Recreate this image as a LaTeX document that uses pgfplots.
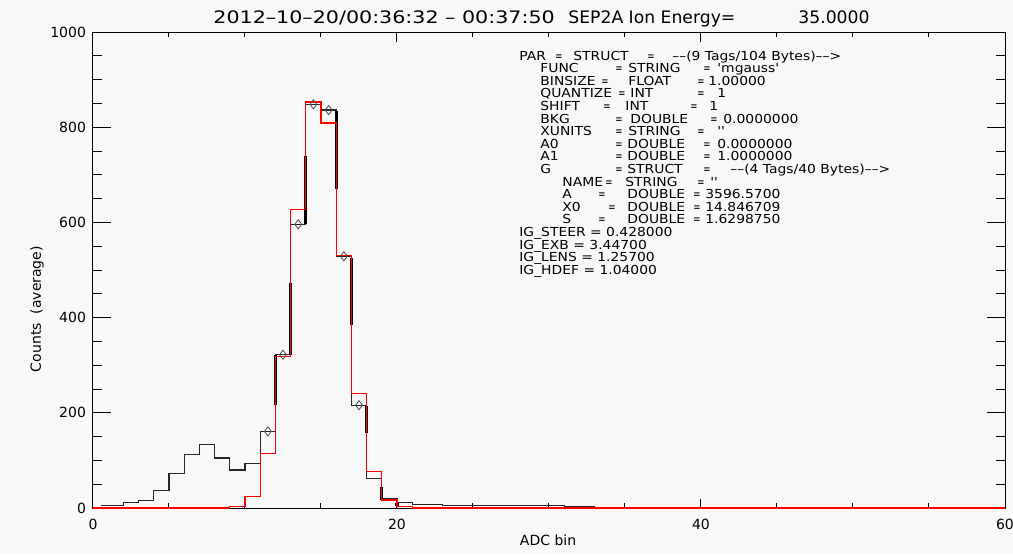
\documentclass[border=0pt]{standalone}
\usepackage{pgfplots}
\pgfplotsset{compat=1.18}
\usepackage{fontspec}
\setmainfont{DejaVu Sans}
\newfontfamily\idlt{DejaVu Sans}
\newfontfamily\idl[FakeStretch=1.12]{DejaVu Sans}
\newfontfamily\idlw[FakeStretch=1.2]{DejaVu Sans}
\definecolor{bg}{RGB}{248,248,248}
\newcommand{\T}[3]{\node[anchor=base west,inner sep=0pt,font=\idl\fontsize{6.2}{7}\selectfont] at ({(#1-93)*0.5pt},{(508-#2-4)*0.5pt}) {#3};}
\newcommand{\E}[2]{\T{#1}{#2}{\scalebox{0.62}[1]{=}}}
\newcommand{\Tt}[3]{\node[anchor=base west,inner sep=0pt,font=#2\fontsize{8.6}{10}\selectfont] at ({(#1-93)*0.5pt},{(508-23)*0.5pt}) {#3};}
\begin{document}
\begin{tikzpicture}
\path[use as bounding box, fill=bg] (-46.5pt,-23pt) rectangle (460pt,254pt);
\begin{axis}[
  scale only axis, width=456pt, height=238pt,
  xmin=0, xmax=60, ymin=0, ymax=1000,
  xtick={0,20,40,60}, ytick={0,200,400,600,800,1000},
  minor x tick num=3, minor y tick num=3,
  tick align=inside,
  xtick style={black, line width=0.5pt, /pgfplots/major tick length=4.75pt, /pgfplots/minor tick length=2.4pt},
  ytick style={black, line width=0.5pt, /pgfplots/major tick length=9.1pt, /pgfplots/minor tick length=4.5pt},
  axis line style={line width=0.5pt},
  tick label style={font=\idlt\fontsize{7}{8}\selectfont},
  /pgf/number format/assume math mode=true,
  /pgf/number format/1000 sep={},
  xticklabel style={yshift=-2pt},
  clip=false,
  xlabel={ADC bin}, ylabel={Counts\ \ (average)},
  every axis x label/.style={at={(axis description cs:0.499,-0.067)}, anchor=center, font=\idlt\fontsize{7}{8}\selectfont},
  every axis y label/.style={at={(axis description cs:-0.0614,0.418)}, anchor=center, rotate=90, font=\idlt\fontsize{7}{8}\selectfont},
]
% observed counts (black histogram)
\addplot[const plot, black!85, line width=0.6pt] coordinates {
 (0.5,6) (2,11) (3,16) (4,37) (5,72) (6,113) (7,134) (8,105) (9,80) (10,94)
 (11,161) (12,322) (13,596) (14,848) (15,836) (16,529) (17,216) (18,62)
 (19,19) (20,11) (21,7) (23,5) (31,2.5) (33,2.5)};
% heavy segments at bin edges
\addplot[black, line width=1.6pt, unbounded coords=jump] coordinates {
 (12,217) (12,322) (12,nan)
 (13,322) (13,473) (13,nan)
 (14,596) (14,739) (14,nan)
 (16,671) (16,835) (16,nan)
 (17,385) (17,525) (17,nan)
 (18,158) (18,215) (18,nan)
 (19,17) (19,45) (19,nan)
 (20,5) (20,11)};
% fit (red histogram)
\addplot[const plot, red, line width=0.6pt] coordinates {
 (0,0) (9,4) (10,25) (11,114) (12,318) (13,627) (14,853) (15,809) (16,531)
 (17,241) (18,77) (19,17) (20,4) (21,0) (60,0)};
% diamonds at bin centres
\addplot[only marks, mark=diamond, mark size=2.3pt, mark options={draw=black!70, line width=0.4pt, fill=none}] coordinates {
 (11.5,161) (12.5,322) (13.5,596) (14.5,848) (15.5,836) (16.5,529) (17.5,216)};
\end{axis}
\Tt{213}{\idlw}{2012–10–20/00:36:32 – 00:37:50}
\Tt{568}{\idlt}{SEP2A Ion Energy=}
\Tt{798}{\idlt}{35.0000}
% parameter listing
\T{519}{56}{PAR}\E{555}{56}\T{573}{56}{STRUCT}\E{647}{56}\T{672}{56}{––(9 Tags/104 Bytes)––>}
\T{540}{68.6}{FUNC}\E{615}{68.6}\T{628}{68.6}{STRING}\E{703}{68.6}\T{717}{68.6}{'mgauss'}
\T{540}{81.2}{BINSIZE}\E{601}{81.2}\T{628}{81.2}{FLOAT}\E{697}{81.2}\T{708}{81.2}{1.00000}
\T{540}{93.8}{QUANTIZE}\E{618}{93.8}\T{630}{93.8}{INT}\E{697}{93.8}\T{717}{93.8}{1}
\T{540}{106.4}{SHIFT}\E{603}{106.4}\T{625}{106.4}{INT}\E{690}{106.4}\T{709}{106.4}{1}
\T{540}{119}{BKG}\E{615}{119}\T{630}{119}{DOUBLE}\E{710}{119}\T{723}{119}{0.0000000}
\T{540}{131.6}{XUNITS}\E{615}{131.6}\T{628}{131.6}{STRING}\E{697}{131.6}\T{717}{131.6}{''}
\T{540}{144.2}{A0}\E{615}{144.2}\T{627}{144.2}{DOUBLE}\E{703}{144.2}\T{717}{144.2}{0.0000000}
\T{540}{156.8}{A1}\E{615}{156.8}\T{627}{156.8}{DOUBLE}\E{703}{156.8}\T{717}{156.8}{1.0000000}
\T{540}{169.4}{G}\E{615}{169.4}\T{627}{169.4}{STRUCT}\E{703}{169.4}\T{730}{169.4}{––(4 Tags/40 Bytes)––>}
\T{562}{182}{NAME}\E{605}{182}\T{625}{182}{STRING}\E{697}{182}\T{710}{182}{''}
\T{562}{194.6}{A}\E{598}{194.6}\T{627}{194.6}{DOUBLE}\E{693}{194.6}\T{705}{194.6}{3596.5700}
\T{562}{207.2}{X0}\E{608}{207.2}\T{627}{207.2}{DOUBLE}\E{693}{207.2}\T{705}{207.2}{14.846709}
\T{562}{219.8}{S}\E{598}{219.8}\T{627}{219.8}{DOUBLE}\E{693}{219.8}\T{705}{219.8}{1.6298750}
\T{519}{232.4}{IG\_STEER = 0.428000}
\T{519}{245}{IG\_EXB = 3.44700}
\T{519}{257.6}{IG\_LENS = 1.25700}
\T{519}{270.2}{IG\_HDEF = 1.04000}
\end{tikzpicture}
\end{document}
